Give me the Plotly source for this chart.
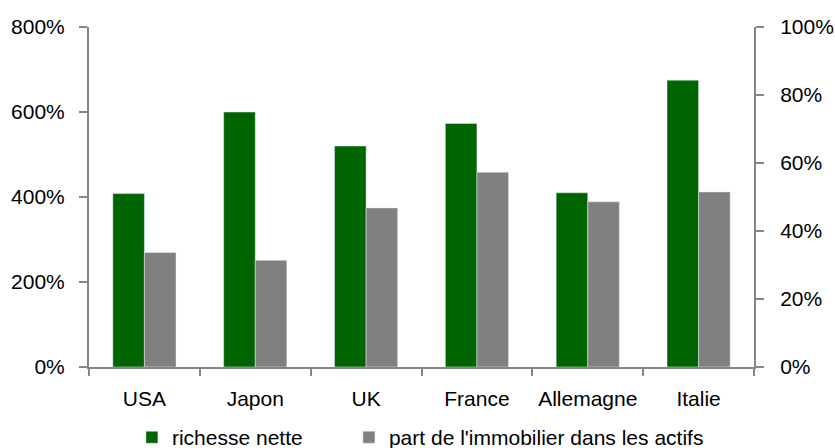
import plotly.graph_objects as go

# Données par pays
pays = ["USA", "Japon", "UK", "France", "Allemagne", "Italie"]
richesse_nette = [408, 600, 520, 573, 410, 675]          # % (axe gauche)
part_immobilier = [33.7, 31.4, 46.8, 57.3, 48.6, 51.5]   # % des actifs (axe droit)

left_ticks = [0, 200, 400, 600, 800]
left_labels = ["0%", "200%", "400%", "600%", "800%"]
right_ticks = [0, 20, 40, 60, 80, 100]
right_labels = ["0%", "20%", "40%", "60%", "80%", "100%"]

FONT = "Liberation Sans, Arial, sans-serif"
AXIS_GREY = "#868686"

fig = go.Figure()
fig.add_trace(go.Bar(
    x=pays, y=richesse_nette, name="richesse nette",
    marker=dict(color="#006400"), offsetgroup="1", yaxis="y",
    legendwidth=172,
))
fig.add_trace(go.Bar(
    x=pays, y=part_immobilier, name="part de l'immobilier dans les actifs",
    marker=dict(color="#808080"), offsetgroup="2", yaxis="y2",
    legendwidth=340,
))

axis_common = dict(
    showline=True, linecolor=AXIS_GREY, linewidth=2,
    ticks="outside", tickcolor=AXIS_GREY, tickwidth=2, ticklen=8,
    showgrid=False, zeroline=False, automargin=False,
    tickfont=dict(family=FONT, size=21, color="black"),
)

fig.update_layout(
    width=835, height=448,
    margin=dict(l=89, r=81, t=27, b=81),
    paper_bgcolor="white", plot_bgcolor="white",
    barmode="group", bargap=0.43, bargroupgap=0,
    font=dict(family=FONT, size=21, color="black"),
    xaxis=dict(**{**axis_common, "ticklen": 7}, tickson="boundaries",
               tickangle=0, ticklabelstandoff=12),
    yaxis=dict(**axis_common, range=[0, 800], tickmode="array",
               tickvals=left_ticks, ticktext=left_labels, ticklabelstandoff=10),
    yaxis2=dict(**axis_common, range=[0, 100], tickmode="array",
                tickvals=right_ticks, ticktext=right_labels,
                overlaying="y", side="right", ticklabelstandoff=12),
    legend=dict(orientation="h", x=0.158, xref="container", xanchor="left",
                y=0.069, yref="container", yanchor="top",
                bgcolor="rgba(0,0,0,0)",
                font=dict(family=FONT, size=21),
                traceorder="normal", itemwidth=30),
    showlegend=True,
)

fig.write_html("out.html")
